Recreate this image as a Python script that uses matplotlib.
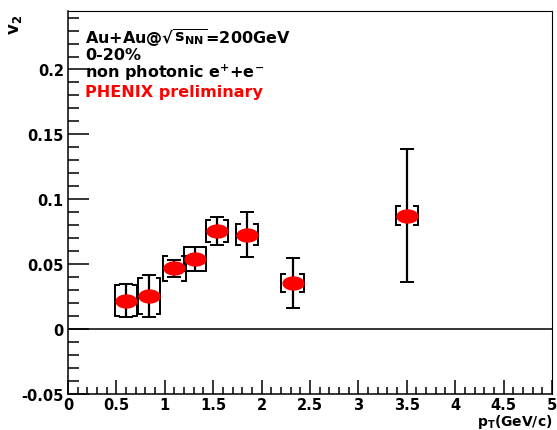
import matplotlib
matplotlib.use("Agg")
import matplotlib.pyplot as plt
import numpy as np
from matplotlib.path import Path
from matplotlib.ticker import MultipleLocator, FixedLocator

# non-photonic electron v2, Au+Au 0-20%
pt = [0.60, 0.84, 1.10, 1.31, 1.54, 1.85, 2.32, 3.50]
v2 = [0.022, 0.0255, 0.047, 0.054, 0.0756, 0.0728, 0.0356, 0.0875]
stat = [0.0127, 0.016, 0.0065, 0.0096, 0.011, 0.0173, 0.019, 0.051]
syst = [0.0122, 0.0137, 0.0096, 0.0096, 0.0085, 0.0083, 0.007, 0.007]

xticks = [0, 0.5, 1, 1.5, 2, 2.5, 3, 3.5, 4, 4.5, 5]
xlabels = ["0", "0.5", "1", "1.5", "2", "2.5", "3", "3.5", "4", "4.5", "5"]
yticks = [-0.05, 0, 0.05, 0.1, 0.15, 0.2]
ylabels = ["-0.05", "0", "0.05", "0.1", "0.15", "0.2"]

plt.rcParams["font.family"] = ["DejaVu Sans"]
plt.rcParams["font.weight"] = "bold"
plt.rcParams["mathtext.fontset"] = "dejavusans"
plt.rcParams["mathtext.default"] = "bf"

fig = plt.figure(figsize=(5.57, 4.31), dpi=100)
ax = fig.add_axes([0.122, 0.0835, 0.869, 0.8885])

ax.set_xlim(0, 5)
ax.set_ylim(-0.05, 0.245)
ax.axhline(0, color="black", lw=1.1)

# systematic brackets
bw = 0.115
stub = 0.04
for x, y, s in zip(pt, v2, syst):
    for side in (-1, 1):
        xe = x + side * bw
        xi = xe - side * stub
        ax.plot([xi, xe, xe, xi], [y + s, y + s, y - s, y - s],
                color="black", lw=1.4, solid_joinstyle="miter")

ax.errorbar(pt, v2, yerr=stat, fmt="none", ecolor="black",
            elinewidth=1.6, capsize=5, capthick=1.4)

t = np.linspace(0, 2 * np.pi, 60)
ellipse = Path(np.column_stack([np.cos(t), 0.62 * np.sin(t)]))
ax.plot(pt, v2, ls="none", marker=ellipse, ms=15, color="red",
        markeredgecolor="red", zorder=5)

ax.xaxis.set_major_locator(FixedLocator(xticks))
ax.set_xticklabels(xlabels)
ax.xaxis.set_minor_locator(MultipleLocator(0.1))
ax.yaxis.set_major_locator(FixedLocator(yticks))
ax.set_yticklabels(ylabels)
ax.yaxis.set_minor_locator(MultipleLocator(0.01))

ax.tick_params(which="both", direction="in", top=False, right=False,
               labelsize=10.5, width=1.1)
ax.tick_params(axis="y", which="major", length=15, pad=3)
ax.tick_params(axis="y", which="minor", length=8)
ax.tick_params(axis="x", which="major", length=10, pad=2)
ax.tick_params(axis="x", which="minor", length=5)
for sp in ax.spines.values():
    sp.set_linewidth(1.1)
ax.spines["top"].set_linewidth(0.8)
ax.spines["right"].set_linewidth(0.8)

tx = 0.035
fs = 11.5
ax.text(tx, 0.933, r"Au+Au@$\sqrt{s_{NN}}$=200GeV", transform=ax.transAxes,
        fontsize=fs, fontweight="bold", va="center", ha="left")
ax.text(tx, 0.886, "0-20%", transform=ax.transAxes,
        fontsize=fs, fontweight="bold", va="center", ha="left")
ax.text(tx, 0.840, r"non photonic e$^{+}$+e$^{-}$", transform=ax.transAxes,
        fontsize=fs, fontweight="bold", va="center", ha="left")
ax.text(tx, 0.789, "PHENIX preliminary", transform=ax.transAxes,
        fontsize=fs, fontweight="bold", color="red", va="center", ha="left")

fig.text(15 / 557, 1 - 25 / 431, r"v$_2$", rotation=90, fontsize=12,
         fontweight="bold", ha="center", va="center")
fig.text(552 / 557, 1 - 422 / 431, r"p$_T$(GeV/c)", fontsize=10,
         fontweight="bold", ha="right", va="center")

fig.savefig("out.png", dpi=100)
